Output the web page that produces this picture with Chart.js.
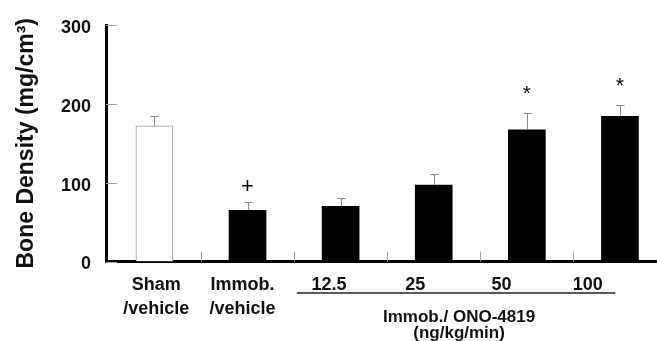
<!DOCTYPE html>
<html>
<head>
<meta charset="utf-8">
<script src="https://cdn.jsdelivr.net/npm/chart.js@4.4.1/dist/chart.umd.min.js"></script>
<style>
  html, body { margin: 0; padding: 0; background: #fff; }
  #wrap { width: 657px; height: 341px; position: relative; }
</style>
</head>
<body>
<div id="wrap"><canvas id="c"></canvas></div>
<script>
// ---- data ----
const categories = [
  ["Sham", "/vehicle"],
  ["Immob.", "/vehicle"],
  "12.5",
  "25",
  "50",
  "100"
];
const meanValues = [172, 65, 70, 97, 167, 184];
const errorTops  = [184, 75, 81, 111, 189, 198];
const markers    = ["", "+", "", "", "*", "*"];
const yTicks     = [0, 100, 200, 300];
const yTitle     = "Bone Density (mg/cm\u00B3)";
const groupLabel = ["Immob./ ONO-4819", "(ng/kg/min)"];

const FONT = "'Liberation Sans', Arial, Helvetica, sans-serif";
const barFill   = meanValues.map((_, i) => i === 0 ? "#ffffff" : "#000000");
const barBorder = meanValues.map((_, i) => i === 0 ? "#9a9a9a" : "#000000");
const barBorderW = meanValues.map((_, i) => i === 0 ? 1 : 0);

const decorPlugin = {
  id: "decor",
  afterDatasetsDraw(chart) {
    const ctx = chart.ctx;
    const x = chart.scales.x, y = chart.scales.y;
    const area = chart.chartArea;
    ctx.save();
    // y tick marks (inward)
    ctx.strokeStyle = "#a0a0a0";
    ctx.lineWidth = 1;
    yTicks.forEach(v => {
      const py = Math.round(y.getPixelForValue(v)) + 0.5;
      ctx.beginPath();
      ctx.moveTo(area.left, py);
      ctx.lineTo(area.left + 11, py);
      ctx.stroke();
    });
    // x tick marks between categories (inward)
    for (let i = 0; i < categories.length - 1; i++) {
      const px = Math.round(x.getPixelForValue(i + 0.5)) + 0.5;
      ctx.beginPath();
      ctx.moveTo(px, area.bottom);
      ctx.lineTo(px, area.bottom - 10);
      ctx.stroke();
    }
    // error bars
    ctx.strokeStyle = "#8a8a8a";
    ctx.lineWidth = 1;
    meanValues.forEach((v, i) => {
      const px = Math.round(x.getPixelForValue(i)) + 0.5;
      const y0 = y.getPixelForValue(v);
      const y1 = Math.round(y.getPixelForValue(errorTops[i])) + 0.5;
      ctx.beginPath();
      ctx.moveTo(px, y0);
      ctx.lineTo(px, y1);
      ctx.moveTo(px - 4, y1);
      ctx.lineTo(px + 4, y1);
      ctx.stroke();
    });
    // significance markers
    const markStyle = { "+": { size: 22, gap: 9 }, "*": { size: 21, gap: 13 } };
    ctx.fillStyle = "#000";
    ctx.textAlign = "center";
    ctx.textBaseline = "alphabetic";
    markers.forEach((m, i) => {
      if (!m) return;
      const st = markStyle[m];
      ctx.font = st.size + "px " + FONT;
      ctx.fillText(m, x.getPixelForValue(i), y.getPixelForValue(errorTops[i]) - st.gap);
    });
    // group underline and label
    const gx0 = x.getPixelForValue(1.53), gx1 = x.getPixelForValue(4.95);
    ctx.strokeStyle = "#222";
    ctx.lineWidth = 1.3;
    ctx.beginPath();
    ctx.moveTo(gx0, 293);
    ctx.lineTo(gx1, 293);
    ctx.stroke();
    ctx.font = "bold 17px " + FONT;
    ctx.fillStyle = "#111";
    const cx = (gx0 + gx1) / 2 + 3;
    ctx.fillText(groupLabel[0], cx, 321.5);
    ctx.fillText(groupLabel[1], cx, 337.5);
    ctx.restore();
  }
};

new Chart(document.getElementById("c"), {
  type: "bar",
  data: {
    datasets: [{
      data: meanValues.map((v, i) => ({ x: i, y: v })),
      backgroundColor: barFill,
      borderColor: barBorder,
      borderWidth: barBorderW,
      barThickness: 37
    }]
  },
  options: {
    responsive: true,
    maintainAspectRatio: false,
    animation: false,
    layout: { padding: { top: 25, left: 0, right: 0, bottom: 0 } },
    plugins: { legend: { display: false }, tooltip: { enabled: false } },
    scales: {
      x: {
        type: "linear",
        position: "bottom",
        weight: 0,
        offset: false,
        min: -0.52,
        max: 5.398,
        grid: { display: false },
        border: { display: true, color: "#000", width: 3 },
        ticks: { display: false },
        afterFit: s => { s.height = 0; }
      },
      xl: {
        type: "linear",
        position: "bottom",
        weight: 1,
        offset: false,
        min: -0.583,
        max: 5.802,
        grid: { display: false },
        border: { display: false },
        afterBuildTicks: s => { s.ticks = categories.map((_, i) => ({ value: i })); },
        ticks: {
          autoSkip: false,
          maxRotation: 0,
          padding: 4,
          color: "#111",
          font: { family: FONT, size: 18, weight: "bold", lineHeight: 1.33 },
          callback: v => categories[v]
        },
        afterFit: s => { s.height = 79.5; }
      },
      y: {
        min: 0,
        max: 300,
        afterBuildTicks: s => { s.ticks = yTicks.map(v => ({ value: v })); },
        grid: { display: false },
        border: { display: true, color: "#000", width: 3 },
        ticks: {
          padding: 7,
          labelOffset: 3,
          color: "#111",
          font: { family: FONT, size: 18, weight: "bold" }
        },
        title: {
          display: true,
          text: yTitle,
          color: "#111",
          padding: { top: 13, bottom: 0 },
          font: { family: FONT, size: 23, weight: "bold" }
        },
        afterFit: s => { s.width = 106; }
      }
    }
  },
  plugins: [decorPlugin]
});
</script>
</body>
</html>
